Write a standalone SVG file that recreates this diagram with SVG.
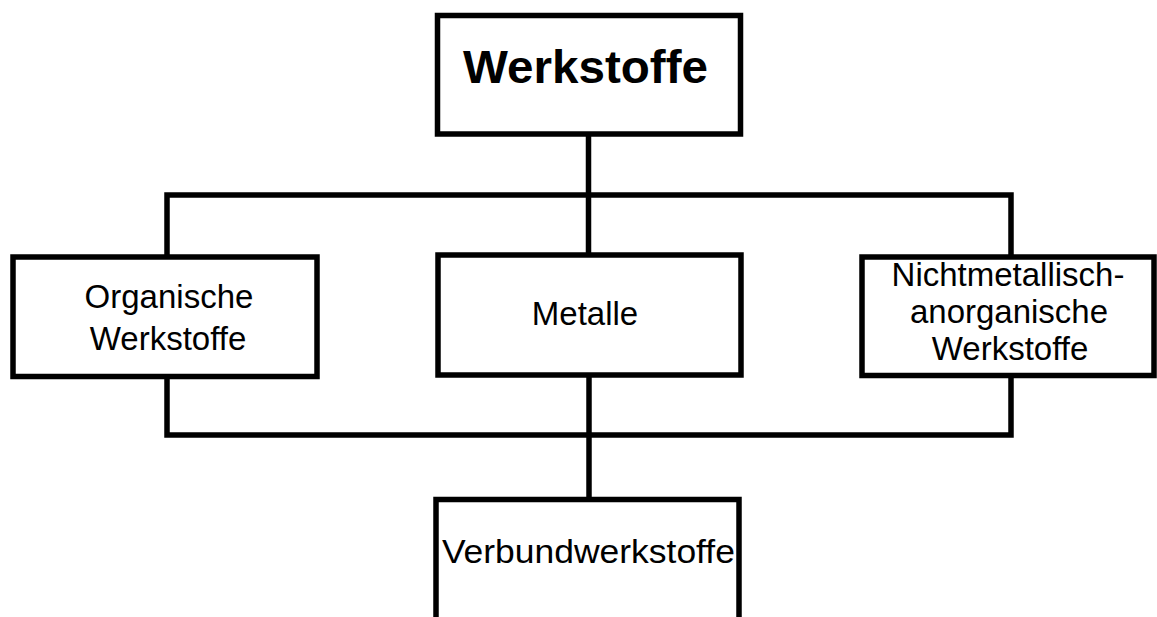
<svg xmlns="http://www.w3.org/2000/svg" width="1157" height="617" viewBox="0 0 1157 617">
<style>
.box{fill:#fff;stroke:#000;stroke-width:5.5}
.ln{fill:none;stroke:#000;stroke-width:5.5;stroke-linecap:square}
.t{font-family:"Liberation Sans",Arial,sans-serif;font-size:33px;fill:#000;text-anchor:middle}
.b{font-weight:bold;font-size:46px}
</style>
<rect width="1157" height="617" fill="#fff"/>
<g id="connectors">
<path class="ln" d="M588.5 134 V255"/>
<path class="ln" d="M167 257 V195 H1011 V257"/>
<path class="ln" d="M167 376.5 V435 H1011 V375.5"/>
<path class="ln" d="M589 375 V499.5"/>
</g>
<g id="werkstoffe">
<rect class="box" x="437.5" y="15.5" width="303" height="118.5"/>
<text class="t b" x="585.5" y="83" textLength="245" lengthAdjust="spacingAndGlyphs">Werkstoffe</text>
</g>
<g id="organische">
<rect class="box" x="13" y="257" width="304" height="119.5"/>
<text class="t" x="169" y="308">Organische</text>
<text class="t" x="168" y="350">Werkstoffe</text>
</g>
<g id="metalle">
<rect class="box" x="438" y="255" width="303" height="120"/>
<text class="t" x="585" y="325">Metalle</text>
</g>
<g id="nichtmetallisch">
<rect class="box" x="862" y="257" width="292" height="118.5"/>
<text class="t" x="1008" y="286">Nichtmetallisch-</text>
<text class="t" x="1009" y="323">anorganische</text>
<text class="t" x="1010" y="359.5">Werkstoffe</text>
</g>
<g id="verbund">
<rect class="box" x="436" y="499.5" width="303" height="140"/>
<text class="t" x="588.4" y="563" textLength="293" lengthAdjust="spacingAndGlyphs">Verbundwerkstoffe</text>
</g>
</svg>
